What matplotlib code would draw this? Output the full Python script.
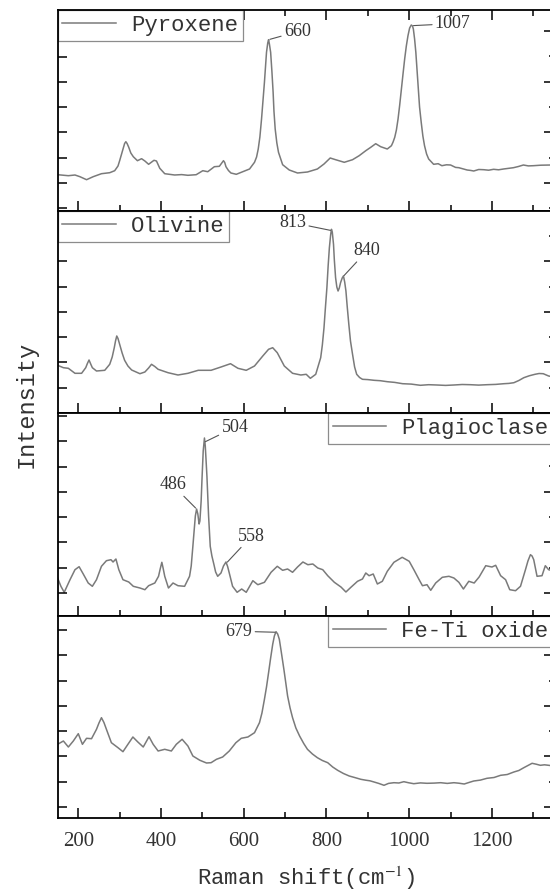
import numpy as np
import matplotlib
matplotlib.use('Agg')
import matplotlib.pyplot as plt
from matplotlib.ticker import MultipleLocator

plt.rcParams['mathtext.fontset'] = 'stix'

names = ['Pyroxene', 'Olivine', 'Plagioclase', 'Fe-Ti oxide']

# Raman shift (cm-1) and intensity (a.u.)
pyroxene_shift = [150, 176, 192, 204, 220, 236, 256, 276, 288, 296, 300, 304, 308, 312, 315, 318,
                  322, 327, 333, 343, 353, 361, 370, 383, 389, 397, 409, 433, 450, 465, 485, 501,
                  513, 529, 541, 546, 551, 554, 557, 563, 569, 582, 598, 614, 626, 631, 635, 639,
                  643, 646, 650, 653, 655, 658, 660, 662, 665, 668, 671, 673, 676, 680, 684, 694,
                  710, 730, 754, 778, 794, 809, 822, 843, 863, 879, 895, 907, 919, 931, 947, 957,
                  961, 965, 969, 973, 977, 981, 985, 989, 993, 997, 1001, 1005, 1008, 1010, 1013,
                  1016, 1019, 1022, 1025, 1029, 1033, 1037, 1042, 1047, 1059, 1070, 1079, 1090,
                  1100, 1112, 1120, 1130, 1140, 1148, 1156, 1168, 1180, 1192, 1204, 1216, 1228,
                  1240, 1252, 1264, 1276, 1288, 1300, 1318, 1337, 1350]
pyroxene_int = [36.3, 35.3, 36.0, 34.3, 31.3, 34.3, 37.3, 38.3, 40.3, 45.0, 50.3, 56.0, 62.0, 67.5,
                69.3, 67.5, 63.7, 58.0, 54.3, 50.3, 52.3, 50.0, 46.7, 50.7, 50.0, 42.7, 37.3, 36.0,
                36.4, 35.7, 36.3, 40.3, 39.3, 44.3, 44.7, 47.5, 50.3, 48.5, 44.3, 40.5, 38.0, 36.7,
                39.3, 42.0, 48.7, 54.0, 62.0, 74.0, 92.0, 108.0, 128.7, 147.0, 158.7, 168.0, 171.3,
                167.0, 158.7, 140.0, 118.7, 100.0, 82.0, 68.0, 58.7, 46.3, 41.0, 38.0, 39.0, 42.0,
                47.0, 53.0, 51.3, 48.7, 51.3, 55.3, 60.3, 63.7, 67.3, 64.3, 62.0, 65.3, 69.0, 73.7,
                81.0, 92.0, 106.0, 122.0, 137.0, 152.0, 165.0, 175.3, 183.0, 186.0, 185.0, 182.0,
                172.0, 158.7, 140.0, 122.0, 104.0, 88.7, 75.0, 65.3, 57.0, 52.0, 46.7, 47.3, 45.3,
                46.2, 46.0, 43.6, 43.3, 42.1, 41.0, 40.6, 40.0, 41.5, 41.3, 40.8, 41.7, 41.2, 42.0,
                42.6, 43.3, 44.5, 46.0, 45.1, 45.3, 45.8, 46.0, 46.0]

olivine_shift = [150, 164, 176, 192, 208, 218, 222, 226, 230, 234, 244, 264, 276, 282, 287, 290, 293,
                 296, 300, 306, 312, 320, 329, 349, 361, 370, 377, 385, 393, 417, 441, 465, 490,
                 521, 545, 568, 586, 606, 626, 646, 660, 670, 681, 698, 718, 738, 751, 761, 774,
                 786, 790, 794, 797, 801, 804, 807, 810, 812, 814, 817, 819, 822, 825, 828, 831,
                 834, 838, 841, 844, 847, 850, 854, 858, 863, 868, 873, 880, 887, 900, 915, 930,
                 947, 965, 984, 1005, 1027, 1047, 1067, 1088, 1108, 1128, 1148, 1168, 1188, 1209,
                 1229, 1241, 1253, 1265, 1277, 1290, 1304, 1314, 1324, 1337, 1350]
olivine_int = [47.7, 45.3, 44.7, 39.7, 39.7, 45.3, 49.5, 53.0, 49.0, 45.3, 42.0, 42.7, 48.7, 56.0,
               65.3, 72.0, 77.0, 74.5, 68.7, 60.0, 52.7, 47.0, 43.0, 39.3, 41.0, 45.0, 48.7, 46.5,
               43.7, 40.3, 38.0, 39.7, 42.7, 42.7, 46.0, 49.3, 44.7, 42.7, 47.0, 57.0, 63.7, 65.3,
               60.3, 47.0, 39.7, 38.0, 38.7, 34.7, 38.7, 55.3, 68.0, 85.3, 103.0, 125.3, 147.0,
               165.3, 178.0, 183.7, 181.0, 168.7, 153.0, 135.3, 126.0, 122.0, 125.0, 130.3, 135.0,
               137.0, 131.0, 122.0, 107.0, 88.7, 72.0, 58.7, 46.0, 38.7, 35.5, 33.7, 33.4, 32.7,
               32.3, 31.3, 30.6, 29.3, 28.9, 27.7, 28.3, 28.0, 27.6, 28.0, 28.5, 28.3, 27.9, 28.3,
               28.6, 29.3, 29.6, 30.3, 32.5, 35.3, 37.2, 38.7, 39.5, 39.3, 37.0, 36.0]

plagioclase_shift = [150, 158, 166, 180, 192, 202, 212, 224, 234, 244, 256, 268, 279, 284, 291, 298,
                     308, 322, 333, 349, 361, 370, 385, 394, 398, 402, 405, 409, 418, 429, 441, 457,
                     469, 473, 477, 480, 483, 486, 489, 492, 494, 497, 499, 502, 505, 507, 509, 511,
                     515, 519, 523, 528, 532, 537, 545, 551, 557, 561, 565, 573, 584, 595, 606, 622,
                     634, 650, 666, 681, 694, 706, 718, 730, 743, 755, 767, 779, 791, 803, 819, 835,
                     847, 859, 875, 887, 895, 903, 913, 923, 935, 947, 963, 983, 1000, 1012, 1024,
                     1032, 1043, 1052, 1064, 1080, 1096, 1108, 1120, 1131, 1144, 1157, 1169, 1185,
                     1200, 1209, 1221, 1233, 1243, 1257, 1269, 1281, 1287, 1293, 1297, 1301, 1309,
                     1321, 1329, 1337, 1350]
plagioclase_int = [38.0, 29.7, 23.7, 36.3, 46.3, 49.3, 42.0, 33.0, 29.7, 36.3, 49.7, 55.3, 56.3, 54.0,
                   57.0, 46.3, 36.3, 34.0, 29.7, 28.0, 26.3, 30.3, 33.0, 39.7, 47.0, 53.7, 48.0,
                   39.7, 28.0, 33.0, 30.3, 29.7, 39.7, 50.0, 69.7, 85.0, 100.0, 107.0, 102.0, 92.0,
                   95.0, 115.0, 136.3, 165.0, 178.0, 170.0, 155.0, 139.7, 100.0, 69.7, 60.0, 51.3,
                   44.0, 39.7, 43.0, 50.0, 54.0, 49.5, 43.0, 29.7, 23.7, 27.0, 23.7, 35.3, 31.3,
                   33.7, 43.7, 49.7, 45.7, 47.0, 43.7, 49.0, 54.0, 51.3, 52.0, 48.0, 46.3, 40.3,
                   33.7, 29.0, 24.0, 28.7, 34.7, 37.0, 43.0, 40.3, 42.0, 32.0, 34.7, 44.7, 53.7,
                   58.7, 54.7, 45.7, 36.3, 30.3, 31.3, 25.7, 33.0, 38.7, 39.7, 38.0, 33.7, 27.0,
                   34.7, 33.0, 39.0, 50.3, 49.0, 50.7, 40.3, 36.3, 26.3, 25.3, 29.7, 46.3, 55.0,
                   61.3, 60.0, 56.3, 39.7, 40.3, 50.3, 46.3, 45.0]

feti_shift = [150, 164, 176, 188, 200, 210, 220, 232, 244, 250, 256, 262, 268, 280, 296, 308, 320,
              332, 344, 357, 371, 381, 393, 409, 425, 437, 451, 465, 477, 494, 510, 521, 534, 549,
              565, 581, 594, 610, 626, 638, 644, 650, 655, 660, 665, 670, 674, 678, 682, 686, 690,
              694, 697, 702, 706, 712, 718, 726, 735, 745, 754, 766, 778, 790, 803, 815, 827, 841,
              855, 868, 883, 895, 905, 915, 927, 939, 950, 963, 975, 987, 999, 1011, 1027, 1043,
              1060, 1076, 1092, 1108, 1120, 1133, 1145, 1156, 1172, 1188, 1205, 1221, 1237, 1253,
              1265, 1277, 1287, 1297, 1307, 1317, 1327, 1337, 1350]
feti_int = [73.7, 77.0, 71.0, 77.0, 84.3, 73.7, 79.7, 79.3, 88.7, 95.0, 100.3, 95.5, 88.7, 75.3,
            70.3, 66.3, 73.7, 81.0, 76.0, 71.0, 81.3, 73.7, 67.0, 68.7, 67.0, 73.7, 78.7, 72.0,
            62.0, 57.7, 55.0, 55.3, 58.7, 61.0, 67.0, 75.3, 79.7, 81.0, 85.3, 95.3, 105.0, 118.7,
            131.0, 145.3, 160.0, 173.7, 182.0, 186.3, 184.0, 178.7, 168.0, 157.0, 148.7, 134.0,
            122.0, 110.0, 100.3, 90.0, 82.0, 74.5, 68.7, 64.0, 60.3, 57.5, 55.3, 51.0, 47.7,
            44.5, 42.0, 40.5, 38.7, 37.8, 37.2, 36.0, 34.5, 32.7, 34.6, 35.3, 35.0, 36.3, 35.2,
            34.3, 35.1, 34.7, 34.9, 35.3, 34.6, 35.3, 34.8, 34.0, 35.6, 37.0, 37.9, 39.7, 40.5,
            42.7, 43.5, 46.0, 47.5, 50.3, 52.5, 54.7, 53.8, 52.7, 53.2, 52.7, 52.0]

pyroxene_peaks = [660, 1007]
olivine_peaks = [813, 840]
plagioclase_peaks = [486, 504, 558]
feti_peaks = [679]

spectra = [(pyroxene_shift, pyroxene_int), (olivine_shift, olivine_int),
           (plagioclase_shift, plagioclase_int), (feti_shift, feti_int)]
peaks = [pyroxene_peaks, olivine_peaks, plagioclase_peaks, feti_peaks]

# label placement: offset from the peak (data units) and alignment
label_place = {660: (37, 8, 'left'), 1007: (55, 2, 'left'),
               813: (-62, 8, 'right'), 840: (26, 26, 'left'),
               486: (-58, 24, 'center'), 504: (42, 15, 'left'), 558: (61, 27, 'center'),
               679: (-58, 1, 'right')}

W, H = 550, 890
edges = [10, 211, 413, 616, 818]
x_left, x_right = 57.6, 554.0
major_off = [28, 0, 23, 11]
legend_x = [0, 0, 0.545, 0.545]
line_col = '#7a7a7a'
txt_col = '#333333'

fig = plt.figure(figsize=(W / 100, H / 100), dpi=100)

for i in range(4):
    top, bot = edges[i], edges[i + 1]
    ax = fig.add_axes([x_left / W, 1 - bot / H, (x_right - x_left) / W, (bot - top) / H])
    shift, inten = spectra[i]
    line, = ax.plot(shift, inten, color=line_col, lw=1.1, zorder=1.5)
    ax.set_xlim(150, 1350)
    ax.set_ylim(0, bot - top)

    for s in ax.spines.values():
        s.set_linewidth(1.3)
        s.set_color('black')

    ax.xaxis.set_major_locator(MultipleLocator(200))
    ax.xaxis.set_minor_locator(MultipleLocator(100))
    ax.tick_params(axis='x', which='both', direction='in', bottom=True, top=(i == 0),
                   labelbottom=(i == 3), width=1.1, pad=10, labelsize=15, labelcolor=txt_col)
    ax.tick_params(axis='x', which='major', length=7.5)
    ax.tick_params(axis='x', which='minor', length=4)
    for lab in ax.get_xticklabels():
        lab.set_fontfamily('Liberation Serif')

    # left side: evenly spaced ticks, right side: long/short ticks
    ax.yaxis.set_major_locator(MultipleLocator(25.3, offset=major_off[i] % 25.3))
    ax.tick_params(axis='y', which='both', direction='in', left=True, right=False,
                   labelleft=False, length=6.5, width=1.1)
    sec = ax.secondary_yaxis('right')
    sec.yaxis.set_major_locator(MultipleLocator(50.6, offset=major_off[i]))
    sec.yaxis.set_minor_locator(MultipleLocator(25.3, offset=major_off[i] % 25.3))
    sec.tick_params(which='both', direction='in', labelright=False, width=1.1)
    sec.tick_params(which='major', length=7)
    sec.tick_params(which='minor', length=3.5)
    sec.spines['right'].set_linewidth(1.3)

    leg = ax.legend([line], [names[i]], loc='upper left', bbox_to_anchor=(legend_x[i], 1.0),
                    borderaxespad=0, fancybox=False, edgecolor='#8c8c8c', framealpha=1,
                    handlelength=2.4, handletextpad=0.68, borderpad=0.22, labelcolor=txt_col,
                    prop={'family': 'Liberation Mono', 'size': 16})
    leg.get_frame().set_linewidth(0.9)
    leg.set_zorder(2)

    for p in peaks[i]:
        y = np.interp(p, shift, inten)
        dx, dy, ha = label_place[p]
        ax.annotate(str(p), xy=(p, y), xytext=(p + dx, y + dy), ha=ha, va='center',
                    fontsize=13, fontfamily='Liberation Serif', color=txt_col,
                    arrowprops=dict(arrowstyle='-', color='#555555', lw=0.8,
                                    shrinkA=0, shrinkB=1))

    if i == 3:
        ax.set_xlabel('Raman shift(cm$^{-1}$)', fontfamily='Liberation Mono', fontsize=16,
                      color=txt_col, labelpad=9.5)

fig.text(26 / W, 1 - 404 / H, 'Intensity', rotation=90, ha='center', va='center',
         fontfamily='Liberation Mono', fontsize=17, color=txt_col)

fig.savefig('out.png', dpi=100, facecolor='white')
